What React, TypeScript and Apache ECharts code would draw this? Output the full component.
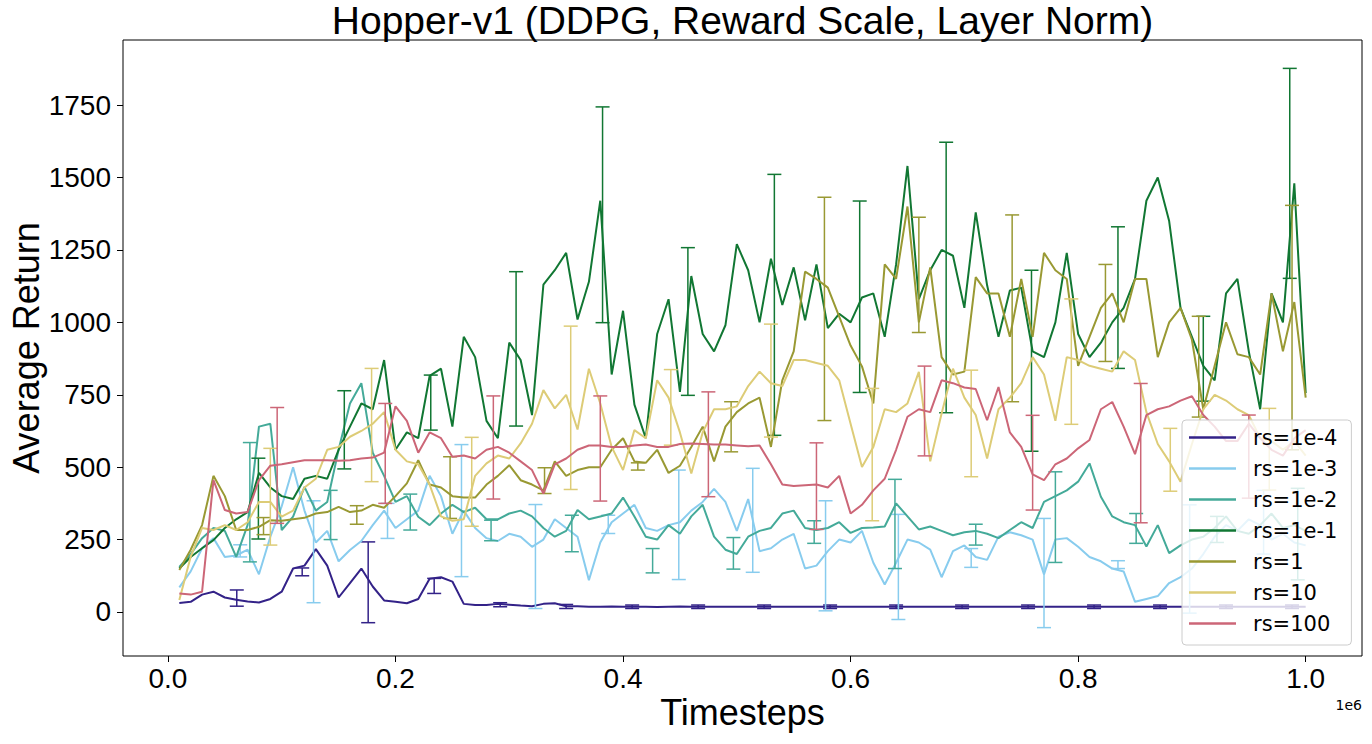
import React, { useEffect, useRef } from 'react';
import * as echarts from 'echarts';

// x positions (timesteps, in units of 1e6)
const TIMESTEPS = [
  0.01, 0.02, 0.03, 0.04, 0.05, 0.06, 0.07, 0.08, 0.09, 0.10,
  0.11, 0.12, 0.13, 0.14, 0.15, 0.16, 0.17, 0.18, 0.19, 0.20,
  0.21, 0.22, 0.23, 0.24, 0.25, 0.26, 0.27, 0.28, 0.29, 0.30,
  0.31, 0.32, 0.33, 0.34, 0.35, 0.36, 0.37, 0.38, 0.39, 0.40,
  0.41, 0.42, 0.43, 0.44, 0.45, 0.46, 0.47, 0.48, 0.49, 0.50,
  0.51, 0.52, 0.53, 0.54, 0.55, 0.56, 0.57, 0.58, 0.59, 0.60,
  0.61, 0.62, 0.63, 0.64, 0.65, 0.66, 0.67, 0.68, 0.69, 0.70,
  0.71, 0.72, 0.73, 0.74, 0.75, 0.76, 0.77, 0.78, 0.79, 0.80,
  0.81, 0.82, 0.83, 0.84, 0.85, 0.86, 0.87, 0.88, 0.89, 0.90,
  0.91, 0.92, 0.93, 0.94, 0.95, 0.96, 0.97, 0.98, 0.99, 1.00,
];

const RS_1E4 = [
  31, 35, 60, 70, 50, 42, 36, 33, 45, 70,
  150, 160, 217, 160, 50, 100, 150, 88, 40, 35,
  30, 45, 115, 120, 105, 28, 24, 24, 28, 25,
  22, 20, 28, 30, 20, 20, 18, 18, 19, 18,
  18, 18, 17, 18, 19, 18, 18, 18, 18, 18,
  18, 18, 18, 18, 18, 18, 18, 18, 18, 18,
  18, 18, 18, 18, 18, 18, 18, 18, 18, 18,
  18, 18, 18, 18, 18, 18, 18, 18, 18, 18,
  18, 18, 18, 18, 18, 18, 18, 18, 18, 18,
  18, 18, 18, 18, 18, 18, 18, 18, 18, 18,
];

const RS_1E3 = [
  85, 140, 220, 255, 190, 195, 215, 130, 260, 365,
  500, 350, 240, 280, 175, 214, 245, 300, 350, 290,
  320, 350, 470, 400, 270, 350, 290, 255, 245, 270,
  260, 225, 250, 320, 290, 260, 110, 240, 310, 340,
  370, 290, 280, 300, 310, 350, 380, 425, 380, 280,
  390, 210, 220, 250, 270, 150, 160, 210, 250, 240,
  280, 170, 95, 170, 250, 240, 215, 120, 210, 230,
  190, 180, 260, 275, 265, 250, 130, 250, 255, 225,
  190, 175, 150, 140, 35, 45, 55, 100, 120, 150,
  200, 260, 300, 280, 320, 300, 250, 270, 240, 230,
];

const RS_1E2 = [
  156, 200, 255, 290, 280, 190, 300, 640, 650, 283,
  329, 432, 350, 380, 560, 720, 790, 550, 470, 380,
  400, 329, 300, 340, 370, 345, 360, 320, 320, 340,
  350, 330, 290, 260, 280, 352, 320, 330, 340, 395,
  330, 260, 250, 300, 270, 330, 370, 260, 215, 200,
  260, 280, 290, 340, 350, 290, 283, 290, 310, 273,
  290, 292, 295, 375, 330, 285, 295, 280, 265, 275,
  280, 270, 255, 283, 310, 290, 380, 400, 420, 450,
  513, 398, 330, 310, 300, 226, 300, 203, 230, 250,
  260, 290, 330, 280, 270, 300, 340, 290, 300, 280,
];

const RS_1E1 = [
  150, 190, 220, 248, 290, 320, 345, 480, 430, 400,
  390, 460, 470, 460, 560, 640, 720, 700, 870, 560,
  620, 600, 815, 840, 640, 950, 880, 660, 600, 930,
  870, 680, 1130, 1180, 1240, 1010, 1140, 1420, 820, 1040,
  716, 600, 960, 1080, 760, 1160, 960, 900, 990, 1270,
  1180, 1000, 1220, 1060, 1190, 1007, 1200, 980, 1030, 1000,
  1086, 1100, 950, 1200, 1540, 1080, 1180, 1250, 1230, 1050,
  1380, 1128, 950, 1110, 1120, 900, 880, 1000, 1240, 960,
  880, 930, 1000, 1050, 1150, 1420, 1500, 1350, 1050, 950,
  850, 800, 1100, 1150, 900, 700, 1100, 1000, 1480, 756,
];

const RS_1 = [
  145, 215, 300, 470, 400, 283, 283, 294, 317, 315,
  320, 325, 340, 345, 363, 345, 350, 370, 360, 400,
  444, 524, 440, 430, 400, 395, 395, 440, 470, 507,
  455, 440, 420, 520, 470, 490, 500, 500, 560, 600,
  520, 515, 560, 480, 505, 570, 640, 520, 640, 690,
  720, 740, 570, 800, 900, 1175, 1150, 1120, 1020, 920,
  848, 720, 1200, 1150, 1400, 1000, 1190, 880, 820, 830,
  1156, 1100, 1100, 950, 1150, 950, 1240, 1180, 1150, 850,
  950, 1050, 1100, 1000, 1150, 1150, 880, 1000, 1050, 940,
  700, 850, 1000, 890, 880, 820, 1100, 900, 1070, 740,
];

const RS_10 = [
  41, 191, 290, 283, 300, 283, 310, 380, 380, 329,
  350, 430, 460, 560, 570, 605, 625, 650, 690, 560,
  520, 510, 440, 330, 315, 320, 470, 513, 540, 530,
  582, 650, 766, 703, 750, 630, 840, 720, 570, 490,
  628, 600, 800, 740, 620, 478, 620, 700, 700, 710,
  780, 830, 790, 780, 870, 870, 860, 850, 800, 650,
  501, 570, 700, 690, 720, 829, 520, 685, 840, 740,
  680, 530, 700, 740, 790, 880, 820, 660, 880, 870,
  850, 840, 830, 900, 870, 690, 580, 520, 450, 580,
  700, 750, 730, 700, 680, 600, 590, 560, 590, 540,
];

const RS_100 = [
  64, 60, 70, 455, 352, 340, 345, 455, 505, 510,
  517, 524, 524, 524, 522, 524, 530, 533, 550, 710,
  660, 550, 620, 600, 536, 540, 530, 560, 570, 550,
  520, 490, 409, 510, 530, 560, 575, 575, 570, 570,
  575, 578, 570, 570, 580, 582, 580, 578, 578, 575,
  572, 575, 510, 440, 435, 438, 440, 430, 470, 340,
  370, 420, 460, 560, 674, 700, 690, 800, 790, 775,
  770, 662, 777, 620, 570, 475, 455, 510, 530, 565,
  594, 700, 725, 640, 545, 680, 700, 710, 730, 745,
  680, 640, 590, 590, 650, 600, 560, 540, 600, 628,
];

// error bars: [timestep, low, high]
const ERR_1E4 = [
  [0.0605, 20, 76], [0.118, 125, 152], [0.176, -37, 242], [0.234, 64, 116],
  [0.292, 18, 32], [0.35, 12, 26], [0.408, 12, 24], [0.466, 12, 24],
  [0.524, 12, 24], [0.582, 12, 24], [0.64, 12, 24], [0.698, 12, 24],
  [0.756, 12, 24], [0.814, 12, 24], [0.872, 12, 24], [0.93, 12, 24], [0.988, 12, 24],
];
const ERR_1E3 = [
  [0.0635, 190, 232], [0.128, 32, 384], [0.193, 254, 375], [0.258, 122, 578],
  [0.323, 12, 371], [0.387, 271, 334], [0.449, 112, 490], [0.514, 137, 496],
  [0.578, 4, 384], [0.642, -26, 337], [0.706, 154, 219], [0.77, -54, 323],
  [0.835, 150, 177], [0.898, -4, 370], [0.963, 200, 420],
];
const ERR_1E2 = [
  [0.072, 173, 585], [0.143, 250, 420], [0.213, 283, 407], [0.284, 246, 317],
  [0.355, 208, 334], [0.426, 135, 219], [0.497, 148, 257], [0.568, 237, 315],
  [0.639, 150, 458], [0.71, 231, 303], [0.78, 171, 484], [0.851, 237, 340],
  [0.922, 240, 330], [0.993, 111, 427],
];
const ERR_1E1 = [
  [0.0795, 252, 531], [0.155, 494, 764], [0.231, 628, 818], [0.306, 642, 1175],
  [0.382, 999, 1744], [0.457, 748, 1258], [0.533, 610, 1511], [0.608, 758, 1419],
  [0.684, 688, 1622], [0.759, 555, 1180], [0.835, 841, 1330], [0.91, 728, 1021],
  [0.986, 1152, 1877],
];
const ERR_1 = [
  [0.084, 267, 326], [0.166, 303, 367], [0.248, 323, 536], [0.331, 409, 498],
  [0.413, 490, 515], [0.495, 553, 726], [0.577, 661, 1432], [0.66, 965, 1363],
  [0.742, 726, 1371], [0.824, 865, 1200], [0.906, 673, 1021], [0.988, 560, 1404],
];
const ERR_10 = [
  [0.09, 231, 565], [0.179, 450, 841], [0.267, 296, 603], [0.354, 423, 987],
  [0.442, 576, 837], [0.53, 604, 994], [0.619, 315, 772], [0.706, 467, 835],
  [0.794, 648, 1081], [0.881, 417, 634], [0.968, 421, 703],
];
const ERR_100 = [
  [0.096, 306, 706], [0.191, 375, 720], [0.286, 390, 746], [0.38, 383, 746],
  [0.475, 398, 760], [0.57, 285, 584], [0.665, 539, 849], [0.76, 352, 679],
  [0.855, 308, 789], [0.95, 393, 680],
];

const SERIES_NAMES = ['rs=1e-4', 'rs=1e-3', 'rs=1e-2', 'rs=1e-1', 'rs=1', 'rs=10', 'rs=100'];
const SERIES_COLORS = ['#332288', '#88CCEE', '#44AA99', '#117733', '#999933', '#DDCC77', '#CC6677'];
const SERIES_VALUES = [RS_1E4, RS_1E3, RS_1E2, RS_1E1, RS_1, RS_10, RS_100];
const SERIES_ERRORS = [ERR_1E4, ERR_1E3, ERR_1E2, ERR_1E1, ERR_1, ERR_10, ERR_100];

const X_TICKS = [0, 0.2, 0.4, 0.6, 0.8, 1.0];
const Y_TICKS = [0, 250, 500, 750, 1000, 1250, 1500, 1750];

const FONT = '"Liberation Sans", Arial, sans-serif';

export default function App() {
  const ref = useRef<HTMLDivElement>(null);

  useEffect(() => {
    if (!ref.current) return;
    const chart = echarts.init(ref.current, null, { renderer: 'svg' });

    const series: any[] = [];
    SERIES_NAMES.forEach((name, i) => {
      const color = SERIES_COLORS[i];
      series.push({
        type: 'line',
        name,
        data: TIMESTEPS.map((t, k) => [t, SERIES_VALUES[i][k]]),
        showSymbol: false,
        symbol: 'none',
        lineStyle: { color, width: 2 },
        itemStyle: { color },
        z: 2 + i * 0.1,
      });
      series.push({
        type: 'custom',
        name,
        data: SERIES_ERRORS[i],
        encode: { x: 0, y: [1, 2] },
        itemStyle: { color },
        silent: true,
        z: 2 + i * 0.1 + 0.05,
        renderItem: (_params: any, api: any) => {
          const x = api.value(0);
          const lo = api.coord([x, api.value(1)]);
          const hi = api.coord([x, api.value(2)]);
          const w = 7;
          const style = { stroke: color, lineWidth: 1.5 };
          return {
            type: 'group',
            children: [
              { type: 'line', shape: { x1: lo[0], y1: lo[1], x2: hi[0], y2: hi[1] }, style },
              { type: 'line', shape: { x1: lo[0] - w, y1: lo[1], x2: lo[0] + w, y2: lo[1] }, style },
              { type: 'line', shape: { x1: hi[0] - w, y1: hi[1], x2: hi[0] + w, y2: hi[1] }, style },
            ],
          };
        },
      });
    });

    chart.setOption({
      animation: false,
      backgroundColor: '#ffffff',
      grid: {
        left: 123,
        right: 10,
        top: 40,
        bottom: 88,
        show: true,
        borderColor: '#000000',
        borderWidth: 1,
        backgroundColor: 'transparent',
        containLabel: false,
      },
      xAxis: {
        type: 'value',
        min: -0.0395,
        max: 1.0495,
        axisLine: { show: false, onZero: false },
        axisTick: {
          show: true,
          length: 6,
          inside: false,
          customValues: X_TICKS,
          lineStyle: { color: '#000000', width: 1 },
        },
        axisLabel: {
          customValues: X_TICKS,
          formatter: (v: number) => v.toFixed(1),
          fontSize: 28,
          fontFamily: FONT,
          color: '#000000',
          margin: 8,
        },
        splitLine: { show: false },
      },
      yAxis: {
        type: 'value',
        min: -152,
        max: 1975,
        axisLine: { show: false, onZero: false },
        axisTick: {
          show: true,
          length: 6,
          inside: false,
          customValues: Y_TICKS,
          lineStyle: { color: '#000000', width: 1 },
        },
        axisLabel: {
          customValues: Y_TICKS,
          formatter: (v: number) => String(Math.round(v)),
          fontSize: 28,
          fontFamily: FONT,
          color: '#000000',
          margin: 12,
        },
        splitLine: { show: false },
      },
      legend: {
        orient: 'vertical',
        left: 1182,
        top: 420,
        data: SERIES_NAMES.map((n) => ({ name: n, icon: 'rect' })),
        itemWidth: 47,
        itemHeight: 2.5,
        itemGap: 10,
        padding: [7, 14, 11, 7],
        backgroundColor: 'rgba(255,255,255,0.8)',
        borderColor: '#cccccc',
        borderWidth: 1,
        borderRadius: 4,
        selectedMode: false,
        textStyle: {
          fontSize: 21,
          lineHeight: 21,
          fontFamily: '"DejaVu Sans", sans-serif',
          color: '#000000',
          padding: [0, 0, 0, 12],
        },
      },
      graphic: [
        {
          type: 'text',
          x: 742.5,
          y: 40,
          style: {
            text: 'Hopper-v1 (DDPG, Reward Scale, Layer Norm)',
            font: `39px ${FONT}`,
            fill: '#000000',
            textAlign: 'center',
            textVerticalAlign: 'bottom',
          },
        },
        {
          type: 'text',
          x: 742.5,
          y: 712,
          style: {
            text: 'Timesteps',
            font: `36px ${FONT}`,
            fill: '#000000',
            textAlign: 'center',
            textVerticalAlign: 'middle',
          },
        },
        {
          type: 'text',
          x: 26,
          y: 348,
          rotation: Math.PI / 2,
          style: {
            text: 'Average Return',
            font: `36px ${FONT}`,
            fill: '#000000',
            textAlign: 'center',
            textVerticalAlign: 'middle',
          },
        },
        {
          type: 'text',
          x: 1362,
          y: 705,
          style: {
            text: '1e6',
            font: '14px "DejaVu Sans", sans-serif',
            fill: '#000000',
            textAlign: 'right',
            textVerticalAlign: 'middle',
          },
        },
      ],
      series,
    });

    return () => chart.dispose();
  }, []);

  return (
    <div
      ref={ref}
      style={{ position: 'absolute', left: 0, top: 0, width: 1372, height: 744, background: '#ffffff' }}
    />
  );
}
